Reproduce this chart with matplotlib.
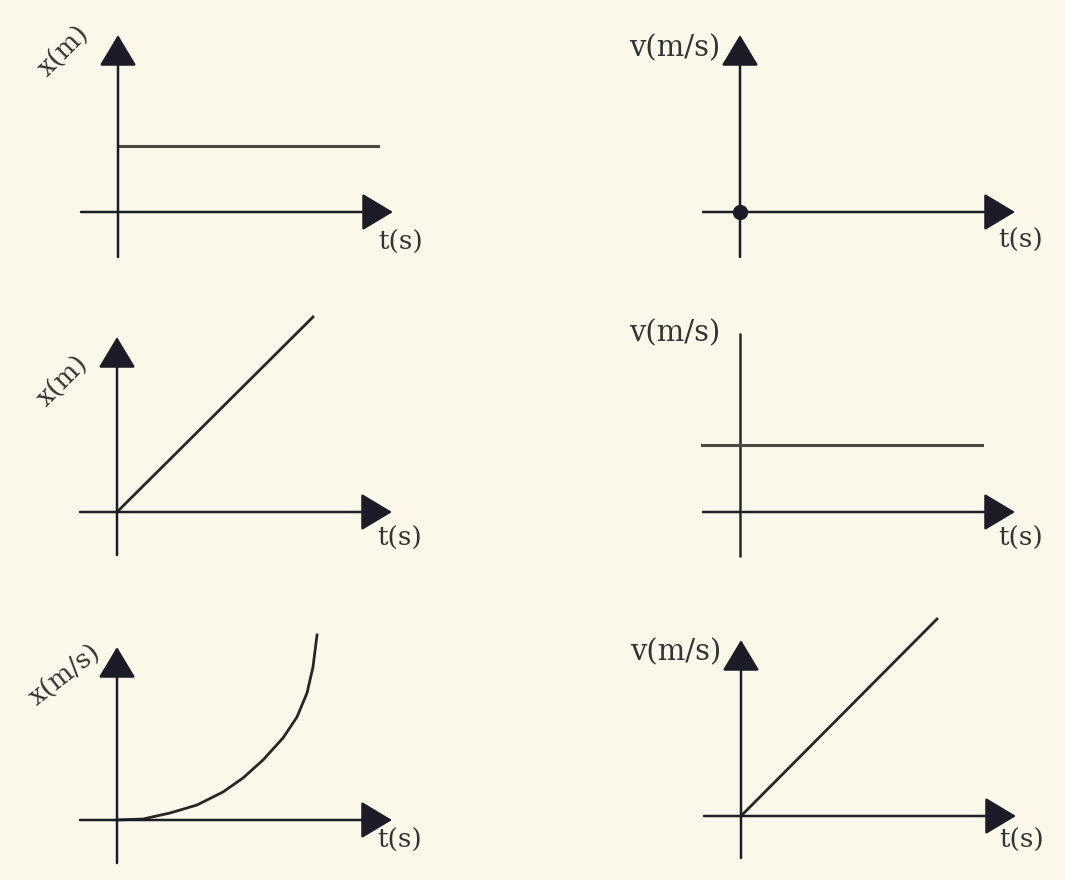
import matplotlib
matplotlib.use("Agg")
import matplotlib.pyplot as plt

# One grid unit = 10 px; each panel's origin sits where its two axes cross.
BG = "#fcf8e9"
INK = "#262626"
HEAD = "#1c1c28"

# panel 1: x(t) constant
p1_t = [0, 26.0]
p1_x = [6.6, 6.6]
# panel 2: v(t) single point at rest
p2_t = [0]
p2_v = [0]
# panel 3: x(t) straight line
p3_t = [0, 19.6]
p3_x = [0, 19.5]
# panel 4: v(t) constant
p4_t = [-3.8, 24.2]
p4_v = [6.7, 6.7]
# panel 5: x(t) curve
p5_t = [0, 2.6, 5.3, 8.0, 10.6, 12.6, 14.6, 16.6, 18.0, 19.0, 19.6, 20.0]
p5_x = [0, 0.1, 0.7, 1.5, 2.8, 4.2, 6.0, 8.2, 10.3, 12.7, 15.3, 18.5]
# panel 6: v(t) straight line
p6_t = [0, 19.6]
p6_v = [0, 19.7]

W, H = 1065, 880
fig = plt.figure(figsize=(W / 100, H / 100), dpi=100, facecolor=BG)
plt.rcParams["font.family"] = ["DejaVu Serif"]


def panel(ox, oy, ytip, yarrow=True, ybottom=-4.5, xtip=27.5, xstart=-3.7):
    # axes box: 36 x 25 units around the origin pixel (ox, oy)
    ax = fig.add_axes([(ox - 40) / W, (H - (oy + 50)) / H, 360 / W, 250 / H])
    ax.set_xlim(-4, 32)
    ax.set_ylim(-5, 20)
    ax.set_facecolor("none")
    ax.axis("off")
    style = dict(arrowstyle="-|>,head_length=0.75,head_width=0.45", color=HEAD,
                 lw=1.8, mutation_scale=26, shrinkA=0, shrinkB=0)
    ax.annotate("", xy=(xtip, 0), xytext=(xstart, 0), arrowprops=style, annotation_clip=False)
    if yarrow:
        ax.annotate("", xy=(0, ytip), xytext=(0, ybottom), arrowprops=style, annotation_clip=False)
    else:
        ax.plot([0, 0], [ybottom, ytip], color=INK, lw=1.8, solid_capstyle="butt")
    return ax


lab = dict(fontsize=19, color="#333333", clip_on=False)
vlab = dict(fontsize=21, color="#333333", clip_on=False)
line = dict(color=INK, lw=2.0, clip_on=False, solid_joinstyle="round")
flat = dict(color="#4a4a40", lw=2.2, clip_on=False)

ax1 = panel(118, 212, 17.7)
ax1.plot(p1_t, p1_x, **flat)
ax1.text(-5.4, 16.1, "x(m)", rotation=45, ha="center", va="center", **lab)
ax1.text(26.0, -3.0, "t(s)", ha="left", va="center", **lab)

ax2 = panel(740, 212, 17.7)
ax2.plot(p2_t, p2_v, "o", color=HEAD, ms=10, clip_on=False)
ax2.text(-2.0, 16.4, "v(m/s)", ha="right", va="center", **vlab)
ax2.text(25.8, -2.8, "t(s)", ha="left", va="center", **lab)

ax3 = panel(117, 512, 17.5, ybottom=-4.3)
ax3.plot(p3_t, p3_x, **line)
ax3.text(-5.4, 13.1, "x(m)", rotation=45, ha="center", va="center", **lab)
ax3.text(26.0, -2.6, "t(s)", ha="left", va="center", **lab)

ax4 = panel(740, 512, 17.9, yarrow=False)
ax4.plot(p4_t, p4_v, **flat)
ax4.text(-2.0, 17.9, "v(m/s)", ha="right", va="center", **vlab)
ax4.text(25.8, -2.6, "t(s)", ha="left", va="center", **lab)

ax5 = panel(117, 820, 17.3, ybottom=-4.3)
ax5.plot(p5_t, p5_x, **line)
ax5.text(-5.2, 14.5, "x(m/s)", rotation=38, ha="center", va="center", **lab)
ax5.text(26.0, -2.0, "t(s)", ha="left", va="center", **lab)

ax6 = panel(741, 816, 17.6, ybottom=-4.2)
ax6.plot(p6_t, p6_v, **line)
ax6.text(-2.0, 16.4, "v(m/s)", ha="right", va="center", **vlab)
ax6.text(25.8, -2.4, "t(s)", ha="left", va="center", **lab)

fig.savefig("out.png", dpi=100, facecolor=BG)
